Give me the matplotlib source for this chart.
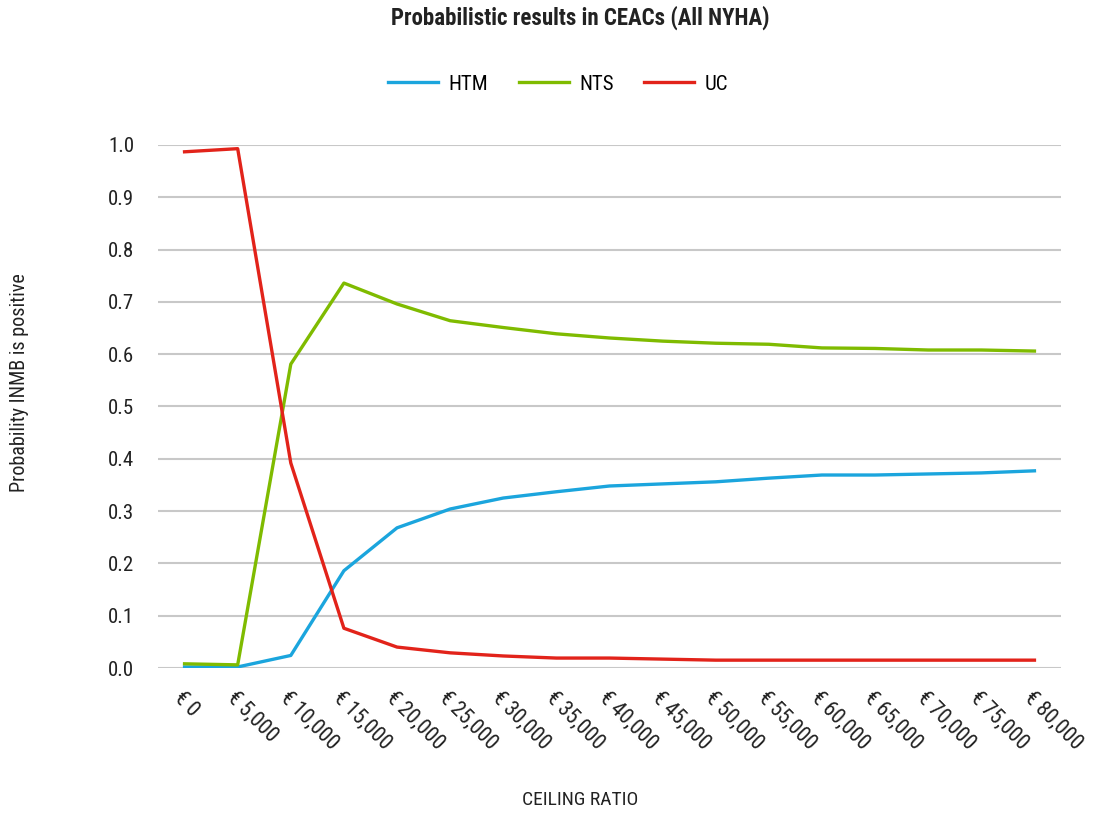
import matplotlib
matplotlib.use("Agg")
import matplotlib.pyplot as plt
from matplotlib import font_manager

# pick a narrow font if one is there
names = set(f.name for f in font_manager.fontManager.ttflist)
font = "Roboto"
for f in ["Roboto Condensed", "Liberation Sans Narrow", "Open Sans Condensed"]:
    if f in names:
        font = f
        break
plt.rcParams['font.family'] = [font, 'DejaVu Sans']

ceiling = ["€ 0", "€ 5,000", "€ 10,000", "€ 15,000", "€ 20,000", "€ 25,000",
           "€ 30,000", "€ 35,000", "€ 40,000", "€ 45,000", "€ 50,000", "€ 55,000",
           "€ 60,000", "€ 65,000", "€ 70,000", "€ 75,000", "€ 80,000"]
htm = [0.002, 0.002, 0.024, 0.186, 0.268, 0.304, 0.325, 0.337, 0.348, 0.352,
       0.356, 0.363, 0.369, 0.369, 0.371, 0.373, 0.377]
nts = [0.008, 0.006, 0.581, 0.736, 0.696, 0.664, 0.651, 0.639, 0.631, 0.625,
       0.621, 0.619, 0.612, 0.611, 0.608, 0.608, 0.606]
uc = [0.987, 0.993, 0.392, 0.076, 0.040, 0.029, 0.023, 0.019, 0.019, 0.017,
      0.015, 0.015, 0.015, 0.015, 0.015, 0.015, 0.015]

W, H = 1107, 816
fig = plt.figure(figsize=(W / 100, H / 100), dpi=100)
ax = fig.add_axes([158 / W, (H - 668) / H, 903 / W, 523 / H])

x = range(len(ceiling))
ax.plot(x, htm, color="#1ba5dd", lw=2.4, label="HTM")
ax.plot(x, nts, color="#7fbb00", lw=2.4, label="NTS")
ax.plot(x, uc, color="#e2231a", lw=2.4, label="UC")

ax.set_xlim(-0.5, len(ceiling) - 0.5)
ax.set_ylim(0, 1.0)
ax.set_yticks([i / 10 for i in range(11)])
ax.set_yticklabels(["%.1f" % (i / 10) for i in range(11)], fontsize=15, color="#222222")
ax.set_xticks(list(x))
ax.set_xticklabels(ceiling, rotation=-45, ha="left", va="top",
                   rotation_mode="anchor", fontsize=15.5, color="#222222")
ax.tick_params(length=0)
ax.tick_params(axis="x", pad=14)
ax.tick_params(axis="y", pad=17)
ax.grid(axis="y", color="#c8c8c8", lw=1.5)
ax.set_axisbelow(True)
for s in ax.spines.values():
    s.set_visible(False)

fig.text(20 / W, 1 - 383 / H, "Probability INMB is positive", rotation=90,
         ha="center", va="center", fontsize=14.5, color="#222222")
fig.text(580 / W, 1 - 800 / H, "CEILING RATIO", ha="center", va="center",
         fontsize=14, color="#222222")
fig.text(580 / W, 1 - 18 / H, "Probabilistic results in CEACs (All NYHA)", ha="center",
         va="center", fontsize=16.5, fontweight="bold", color="#222222")

ax.legend(loc="center", bbox_to_anchor=(558 / W, 1 - 84 / H), bbox_transform=fig.transFigure,
          ncol=3, frameon=False, fontsize=15, handlelength=2.4, handletextpad=0.5,
          columnspacing=1.45)

fig.savefig("out.png", dpi=100)
